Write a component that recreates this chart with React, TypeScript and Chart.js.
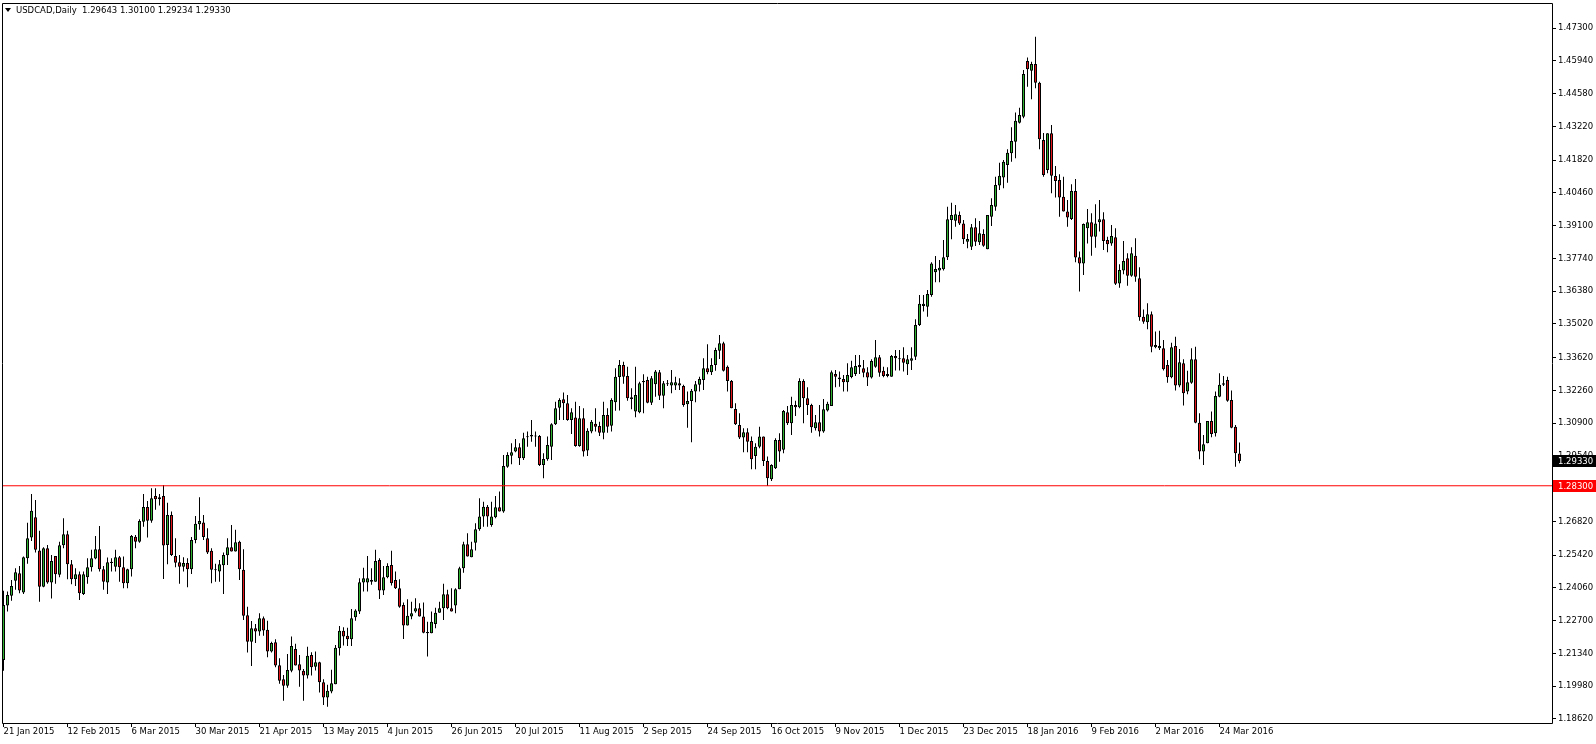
import React, { useEffect, useRef } from "react";
import { Chart, registerables } from "chart.js";

Chart.register(...registerables);

// ---------------- data ----------------
const symbolName = "USDCAD,Daily";

const opens = [
  1.2107,1.2333,1.2374,1.2436,1.2467,1.2387,1.2529,1.2615,1.2699,1.2561,
  1.2411,1.2571,1.2428,1.2538,1.2461,1.2583,1.2629,1.2504,1.2442,1.2463,
  1.2381,1.2450,1.2492,1.2528,1.2567,1.2484,1.2428,1.2509,1.2494,1.2533,
  1.2492,1.2425,1.2484,1.2618,1.2598,1.2681,1.2742,1.2685,1.2788,1.2774,
  1.2788,1.2584,1.2709,1.2539,1.2513,1.2494,1.2509,1.2484,1.2605,1.2670,
  1.2678,1.2612,1.2560,1.2479,1.2474,1.2500,1.2542,1.2575,1.2557,1.2598,
  1.2481,1.2293,1.2183,1.2239,1.2225,1.2280,1.2232,1.2142,1.2180,1.2085,
  1.2027,1.2000,1.2062,1.2152,1.2089,1.2062,1.2042,1.2128,1.2079,1.2098,
  1.2015,1.1951,1.1976,1.2006,1.2156,1.2228,1.2207,1.2193,1.2284,1.2308,
  1.2428,1.2428,1.2432,1.2432,1.2522,1.2395,1.2450,1.2501,1.2439,1.2405,
  1.2335,1.2250,1.2287,1.2308,1.2322,1.2287,1.2218,1.2218,1.2256,1.2303,
  1.2322,1.2380,1.2322,1.2333,1.2401,1.2488,1.2587,1.2533,1.2594,1.2650,
  1.2702,1.2743,1.2667,1.2699,1.2741,1.2723,1.2909,1.2955,1.2972,1.2990,
  1.2944,1.3031,1.3034,1.3037,1.3037,1.2916,1.2940,1.2992,1.3085,1.3154,
  1.3189,1.3172,1.3103,1.3113,1.2995,1.3110,1.2976,1.3055,1.3087,1.3078,
  1.3050,1.3124,1.3079,1.3177,1.3281,1.3331,1.3286,1.3190,1.3138,1.3135,
  1.3260,1.3269,1.3175,1.3251,1.3301,1.3204,1.3251,1.3246,1.3246,1.3256,
  1.3244,1.3168,1.3182,1.3221,1.3249,1.3269,1.3318,1.3301,1.3331,1.3390,
  1.3422,1.3324,1.3265,1.3149,1.3082,1.3030,1.3052,1.3016,1.2954,1.2992,
  1.3034,1.2933,1.2857,1.2903,1.3020,1.2979,1.3135,1.3089,1.3165,1.3156,
  1.3265,1.3193,1.3165,1.3069,1.3094,1.3055,1.3142,1.3161,1.3294,1.3279,
  1.3273,1.3260,1.3281,1.3294,1.3331,1.3318,1.3301,1.3279,1.3324,1.3363,
  1.3307,1.3294,1.3283,1.3369,1.3359,1.3359,1.3334,1.3349,1.3365,1.3497,
  1.3576,1.3573,1.3622,1.3716,1.3723,1.3729,1.3778,1.3933,1.3930,1.3954,
  1.3919,1.3843,1.3822,1.3903,1.3841,1.3875,1.3812,1.3947,1.3988,1.4076,
  1.4110,1.4161,1.4210,1.4258,1.4337,1.4362,1.4593,1.4553,1.4581,1.4503,
  1.4265,1.4141,1.4293,1.4116,1.4099,1.4030,1.3968,1.3937,1.4054,1.3778,
  1.3753,1.3899,1.3924,1.3864,1.3924,1.3936,1.3850,1.3836,1.3861,1.3670,
  1.3723,1.3774,1.3702,1.3785,1.3691,1.3532,1.3509,1.3542,1.3405,1.3401,
  1.3401,1.3331,1.3280,1.3410,1.3246,1.3339,1.3221,1.3258,1.3355,1.3092,
  1.2972,1.3006,1.3099,1.3048,1.3200,1.3249,1.3269,1.3186,1.3075,1.29643,
];

const highs = [
  1.2394,1.2391,1.2439,1.2488,1.2497,1.2536,1.2677,1.2796,1.2771,1.2643,
  1.2575,1.2584,1.2543,1.2539,1.2598,1.2695,1.2643,1.2522,1.2488,1.2474,
  1.2474,1.2529,1.2564,1.2622,1.2663,1.2497,1.2532,1.2529,1.2564,1.2539,
  1.2536,1.2486,1.2626,1.2626,1.2691,1.2796,1.2767,1.2820,1.2820,1.2796,
  1.2833,1.2760,1.2723,1.2612,1.2543,1.2533,1.2529,1.2617,1.2705,1.2782,
  1.2709,1.2654,1.2571,1.2506,1.2522,1.2553,1.2612,1.2667,1.2647,1.2602,
  1.2567,1.2328,1.2269,1.2256,1.2301,1.2287,1.2270,1.2183,1.2193,1.2114,
  1.2045,1.2132,1.2204,1.2174,1.2128,1.2069,1.2162,1.2139,1.2142,1.2100,
  1.2027,1.2004,1.2066,1.2169,1.2248,1.2243,1.2241,1.2319,1.2318,1.2446,
  1.2490,1.2539,1.2488,1.2564,1.2529,1.2497,1.2508,1.2560,1.2474,1.2442,
  1.2345,1.2359,1.2349,1.2363,1.2342,1.2345,1.2266,1.2308,1.2324,1.2349,
  1.2423,1.2398,1.2405,1.2405,1.2494,1.2598,1.2633,1.2598,1.2674,1.2778,
  1.2764,1.2750,1.2764,1.2788,1.2806,1.2958,1.2969,1.3006,1.3024,1.3006,
  1.3050,1.3055,1.3103,1.3055,1.3041,1.2965,1.3034,1.3089,1.3179,1.3193,
  1.3217,1.3207,1.3152,1.3179,1.3161,1.3152,1.3069,1.3103,1.3152,1.3096,
  1.3179,1.3152,1.3193,1.3318,1.3352,1.3345,1.3324,1.3235,1.3324,1.3262,
  1.3293,1.3283,1.3286,1.3311,1.3311,1.3265,1.3269,1.3311,1.3283,1.3276,
  1.3249,1.3221,1.3232,1.3265,1.3283,1.3359,1.3417,1.3359,1.3403,1.3456,
  1.3428,1.3329,1.3269,1.3172,1.3131,1.3069,1.3069,1.3034,1.3006,1.3075,
  1.3034,1.2951,1.2919,1.3027,1.3048,1.3145,1.3161,1.3200,1.3183,1.3276,
  1.3272,1.3239,1.3170,1.3124,1.3165,1.3190,1.3179,1.3308,1.3311,1.3304,
  1.3290,1.3339,1.3349,1.3373,1.3373,1.3352,1.3322,1.3355,1.3435,1.3373,
  1.3324,1.3322,1.3373,1.3394,1.3394,1.3405,1.3373,1.3405,1.3521,1.3622,
  1.3622,1.3643,1.3758,1.3784,1.3767,1.3850,1.3988,1.4005,1.3995,1.3968,
  1.3933,1.3875,1.3917,1.3940,1.3929,1.3895,1.3954,1.4023,1.4113,1.4171,
  1.4182,1.4227,1.4318,1.4379,1.4399,1.4556,1.4608,1.4590,1.4694,1.4507,
  1.4294,1.4293,1.4327,1.4157,1.4123,1.4113,1.4016,1.4081,1.4103,1.3802,
  1.3919,1.3979,1.3961,1.3998,1.4016,1.3965,1.3864,1.3912,1.3899,1.3749,
  1.3846,1.3795,1.3820,1.3857,1.3737,1.3562,1.3588,1.3553,1.3470,1.3473,
  1.3435,1.3352,1.3424,1.3449,1.3398,1.3355,1.3307,1.3401,1.3407,1.3131,
  1.3041,1.3099,1.3138,1.3221,1.3297,1.3286,1.3283,1.3225,1.3082,1.30100,
];

const lows = [
  1.2062,1.2308,1.2353,1.2398,1.2384,1.2381,1.2506,1.2601,1.2553,1.2349,
  1.2409,1.2423,1.2362,1.2423,1.2450,1.2571,1.2442,1.2421,1.2414,1.2356,
  1.2377,1.2423,1.2474,1.2525,1.2474,1.2398,1.2381,1.2474,1.2474,1.2432,
  1.2405,1.2405,1.2453,1.2571,1.2594,1.2660,1.2615,1.2677,1.2730,1.2748,
  1.2443,1.2504,1.2539,1.2492,1.2423,1.2474,1.2409,1.2464,1.2591,1.2647,
  1.2605,1.2547,1.2425,1.2432,1.2432,1.2381,1.2501,1.2557,1.2557,1.2439,
  1.2273,1.2138,1.2082,1.2177,1.2207,1.2207,1.2118,1.2138,1.2077,1.2008,
  1.1938,1.1992,1.2056,1.2084,1.1996,1.1938,1.2030,1.2042,1.2063,1.1972,
  1.1920,1.1913,1.1969,1.2006,1.2125,1.2167,1.2165,1.2165,1.2270,1.2298,
  1.2391,1.2391,1.2419,1.2432,1.2360,1.2377,1.2446,1.2416,1.2402,1.2324,
  1.2194,1.2250,1.2276,1.2303,1.2287,1.2218,1.2121,1.2218,1.2239,1.2303,
  1.2273,1.2318,1.2308,1.2301,1.2401,1.2469,1.2536,1.2533,1.2561,1.2643,
  1.2660,1.2660,1.2660,1.2695,1.2723,1.2718,1.2905,1.2919,1.2969,1.2916,
  1.2937,1.2992,1.3013,1.2992,1.2912,1.2861,1.2934,1.2937,1.3082,1.3103,
  1.3103,1.3100,1.3045,1.2992,1.2992,1.2951,1.2954,1.3048,1.3055,1.3037,
  1.3023,1.3050,1.3055,1.3141,1.3142,1.3253,1.3183,1.3148,1.3114,1.3131,
  1.3131,1.3173,1.3165,1.3200,1.3186,1.3152,1.3244,1.3214,1.3228,1.3228,
  1.3158,1.3071,1.3011,1.3177,1.3221,1.3228,1.3293,1.3290,1.3307,1.3356,
  1.3304,1.3221,1.3152,1.3082,1.3024,1.2969,1.2969,1.2899,1.2899,1.2986,
  1.2912,1.2829,1.2850,1.2900,1.2930,1.2965,1.3082,1.3041,1.3120,1.3152,
  1.3089,1.3124,1.3050,1.3059,1.3034,1.3050,1.3138,1.3161,1.3239,1.3241,
  1.3221,1.3221,1.3276,1.3286,1.3294,1.3280,1.3244,1.3275,1.3320,1.3283,
  1.3280,1.3280,1.3283,1.3308,1.3308,1.3304,1.3290,1.3311,1.3352,1.3493,
  1.3553,1.3532,1.3615,1.3675,1.3675,1.3723,1.3767,1.3853,1.3905,1.3912,
  1.3834,1.3816,1.3809,1.3825,1.3829,1.3822,1.3812,1.3908,1.3972,1.4058,
  1.4065,1.4088,1.4175,1.4189,1.4334,1.4355,1.4486,1.4434,1.4480,1.4227,
  1.4113,1.4127,1.4044,1.4026,1.3947,1.3968,1.3905,1.3933,1.3758,1.3636,
  1.3705,1.3836,1.3785,1.3818,1.3885,1.3809,1.3799,1.3826,1.3663,1.3652,
  1.3708,1.3660,1.3698,1.3677,1.3515,1.3502,1.3480,1.3384,1.3401,1.3394,
  1.3308,1.3258,1.3276,1.3225,1.3239,1.3163,1.3210,1.3253,1.3089,1.2940,
  1.2916,1.3006,1.3031,1.3034,1.3197,1.3244,1.3179,1.3069,1.2909,1.29234,
];

const closes = [
  1.2335,1.2377,1.2414,1.2471,1.2395,1.2533,1.2612,1.2726,1.2564,1.2411,
  1.2571,1.2428,1.2518,1.2463,1.2583,1.2629,1.2504,1.2442,1.2463,1.2384,
  1.2463,1.2492,1.2529,1.2567,1.2484,1.2432,1.2513,1.2515,1.2533,1.2492,
  1.2425,1.2484,1.2622,1.2598,1.2684,1.2742,1.2685,1.2778,1.2774,1.2782,
  1.2582,1.2709,1.2543,1.2511,1.2494,1.2509,1.2484,1.2605,1.2672,1.2684,
  1.2617,1.2553,1.2481,1.2482,1.2504,1.2543,1.2575,1.2557,1.2596,1.2484,
  1.2291,1.2183,1.2239,1.2225,1.2280,1.2229,1.2142,1.2177,1.2084,1.2021,
  1.2000,1.2065,1.2165,1.2084,1.2063,1.2042,1.2124,1.2077,1.2098,1.2015,
  1.1951,1.1979,1.2010,1.2158,1.2228,1.2204,1.2193,1.2280,1.2312,1.2430,
  1.2446,1.2446,1.2439,1.2518,1.2395,1.2450,1.2497,1.2425,1.2405,1.2328,
  1.2250,1.2290,1.2301,1.2322,1.2287,1.2220,1.2223,1.2266,1.2303,1.2322,
  1.2380,1.2322,1.2308,1.2401,1.2488,1.2587,1.2536,1.2567,1.2650,1.2702,
  1.2743,1.2702,1.2702,1.2741,1.2723,1.2912,1.2958,1.2969,1.2990,1.2944,
  1.3027,1.3035,1.3041,1.3034,1.2916,1.2941,1.2999,1.3085,1.3152,1.3186,
  1.3172,1.3103,1.3135,1.2995,1.3110,1.2972,1.3058,1.3096,1.3075,1.3050,
  1.3124,1.3075,1.3186,1.3283,1.3331,1.3283,1.3193,1.3197,1.3207,1.3256,
  1.3265,1.3175,1.3276,1.3304,1.3204,1.3256,1.3253,1.3260,1.3260,1.3246,
  1.3165,1.3182,1.3224,1.3251,1.3273,1.3318,1.3301,1.3331,1.3394,1.3422,
  1.3307,1.3265,1.3152,1.3085,1.3030,1.3052,1.3013,1.2940,1.2992,1.3034,
  1.2933,1.2861,1.2916,1.3020,1.2972,1.3140,1.3089,1.3165,1.3156,1.3265,
  1.3193,1.3165,1.3073,1.3094,1.3055,1.3148,1.3170,1.3301,1.3283,1.3272,
  1.3260,1.3290,1.3322,1.3327,1.3322,1.3299,1.3279,1.3348,1.3363,1.3299,
  1.3286,1.3286,1.3369,1.3359,1.3355,1.3341,1.3355,1.3359,1.3497,1.3585,
  1.3585,1.3626,1.3753,1.3730,1.3735,1.3778,1.3936,1.3954,1.3957,1.3919,
  1.3853,1.3854,1.3903,1.3843,1.3878,1.3826,1.3954,1.3995,1.4078,1.4117,
  1.4175,1.4212,1.4261,1.4345,1.4369,1.4539,1.4559,1.4581,1.4503,1.4268,
  1.4120,1.4293,1.4117,1.4095,1.4026,1.3968,1.3943,1.4054,1.3777,1.3753,
  1.3917,1.3924,1.3864,1.3919,1.3936,1.3846,1.3832,1.3867,1.3668,1.3726,
  1.3763,1.3702,1.3795,1.3698,1.3529,1.3511,1.3542,1.3407,1.3414,1.3410,
  1.3314,1.3280,1.3405,1.3246,1.3343,1.3214,1.3260,1.3355,1.3092,1.2972,
  1.3002,1.3099,1.3045,1.3203,1.3249,1.3256,1.3183,1.3071,1.2965,1.29330,
];

const dateLabels = [
  "21 Jan 2015", "12 Feb 2015", "6 Mar 2015", "30 Mar 2015", "21 Apr 2015",
  "13 May 2015", "4 Jun 2015", "26 Jun 2015", "20 Jul 2015", "11 Aug 2015",
  "2 Sep 2015", "24 Sep 2015", "16 Oct 2015", "9 Nov 2015", "1 Dec 2015",
  "23 Dec 2015", "18 Jan 2016", "9 Feb 2016", "2 Mar 2016", "24 Mar 2016",
];
const dateLabelStep = 16; // bars between date labels

const priceTicks = [
  1.473, 1.4594, 1.4458, 1.4322, 1.4182, 1.4046, 1.391, 1.3774, 1.3638, 1.3502, 1.3362,
  1.3226, 1.309, 1.2954, 1.2818, 1.2682, 1.2542, 1.2406, 1.227, 1.2134, 1.1998, 1.1862,
];

const levelLine = 1.283;
const priceMin = 1.184535;
const priceMax = 1.48338;

// ---------------- style ----------------
const FONT_FAMILY = '"DejaVu Sans", Verdana, sans-serif';
const FONT_SIZE = 8.5;
const BULL = "#2fb22f";
const BEAR = "#e3161b";
const BAR_STEP_PX = 4;
const CHART_W = 1596;
const CHART_H = 744;
const AREA_LEFT = 2;
const AREA_TOP = 3;
const Y_AXIS_W = 44;
const X_AXIS_H = 21;

export default function App() {
  const canvasRef = useRef<HTMLCanvasElement | null>(null);

  useEffect(() => {
    const canvas = canvasRef.current;
    if (!canvas) return;
    const n = closes.length;
    const idx = closes.map((_, i) => i);
    const wickData = idx.map((i) => ({ x: i, y: [lows[i], highs[i]] }));
    const bodyData = idx.map((i) => ({ x: i, y: [opens[i], closes[i]] }));
    const bodyColors = idx.map((i) => (closes[i] >= opens[i] ? BULL : BEAR));

    const areaWidth = CHART_W - AREA_LEFT - Y_AXIS_W;
    const xMin = -1.5 / BAR_STEP_PX;
    const xMax = xMin + areaWidth / BAR_STEP_PX;

    const font = { family: FONT_FAMILY, size: FONT_SIZE, lineHeight: 1.2 };

    const overlay = {
      id: "mt4Overlay",
      afterDraw(chart: any) {
        const { ctx, chartArea } = chart;
        const yScale = chart.scales.y;
        ctx.save();
        // frame
        ctx.strokeStyle = "#000";
        ctx.lineWidth = 1;
        ctx.beginPath();
        ctx.moveTo(chartArea.left + 0.5, chartArea.top + 0.5);
        ctx.lineTo(chartArea.right + 0.5, chartArea.top + 0.5);
        ctx.lineTo(chartArea.right + 0.5, chartArea.bottom + 0.5);
        ctx.lineTo(chartArea.left + 0.5, chartArea.bottom + 0.5);
        ctx.closePath();
        ctx.stroke();

        ctx.font = `${FONT_SIZE}px ${FONT_FAMILY}`;
        ctx.textBaseline = "middle";
        ctx.textAlign = "left";

        const drawBox = (price: number, bg: string) => {
          const y = Math.round(yScale.getPixelForValue(price));
          ctx.fillStyle = bg;
          ctx.fillRect(chartArea.right + 1, y - 6, CHART_W - chartArea.right - 1, 12);
          ctx.fillStyle = "#fff";
          ctx.fillText(price.toFixed(5), chartArea.right + 6, y + 0.5);
        };
        drawBox(closes[n - 1], "#000");
        drawBox(levelLine, "#ff0000");

        // title
        ctx.fillStyle = "#000";
        ctx.beginPath();
        ctx.moveTo(5, 8);
        ctx.lineTo(11, 8);
        ctx.lineTo(8, 12);
        ctx.closePath();
        ctx.fill();
        const title =
          `${symbolName}  ${opens[n - 1].toFixed(5)} ${highs[n - 1].toFixed(5)} ` +
          `${lows[n - 1].toFixed(5)} ${closes[n - 1].toFixed(5)}`;
        ctx.fillText(title, 16, 10.5);
        ctx.restore();
      },
    };

    const chart = new Chart(canvas, {
      type: "bar",
      data: {
        datasets: [
          {
            type: "line",
            data: [
              { x: xMin, y: levelLine },
              { x: xMax, y: levelLine },
            ],
            borderColor: "#ff0000",
            borderWidth: 1,
            pointRadius: 0,
            order: 0,
          } as any,
          {
            type: "bar",
            data: bodyData as any,
            backgroundColor: bodyColors,
            borderColor: "#000",
            borderWidth: 1,
            borderSkipped: false,
            barThickness: 3,
            grouped: false,
            minBarLength: 1,
            inflateAmount: 0,
            order: 1,
          } as any,
          {
            type: "bar",
            data: wickData as any,
            backgroundColor: "#000",
            borderWidth: 0,
            barThickness: 1,
            grouped: false,
            inflateAmount: 0,
            order: 2,
          } as any,
        ],
      },
      options: {
        responsive: false,
        maintainAspectRatio: false,
        animation: false,
        devicePixelRatio: 1,
        events: [],
        layout: { padding: { left: AREA_LEFT, top: AREA_TOP, right: 0, bottom: 0 } },
        plugins: {
          legend: { display: false },
          tooltip: { enabled: false },
          title: { display: false },
        },
        scales: {
          x: {
            type: "linear",
            position: "bottom",
            min: xMin,
            max: xMax,
            offset: false,
            afterBuildTicks: (scale: any) => {
              scale.ticks = dateLabels.map((_, i) => ({ value: i * dateLabelStep }));
            },
            afterFit: (scale: any) => {
              scale.height = X_AXIS_H;
              scale.paddingLeft = 0;
              scale.paddingRight = 0;
            },
            ticks: {
              autoSkip: false,
              maxRotation: 0,
              minRotation: 0,
              align: "start",
              padding: 0,
              color: "#000",
              font,
              callback: (_v: any, i: number) => dateLabels[i] ?? "",
            },
            grid: {
              display: true,
              offset: false,
              drawOnChartArea: false,
              drawTicks: true,
              tickLength: 4,
              color: "#000",
              lineWidth: 1,
            },
            border: { display: false },
          } as any,
          y: {
            type: "linear",
            position: "right",
            min: priceMin,
            max: priceMax,
            afterBuildTicks: (scale: any) => {
              scale.ticks = priceTicks.map((v) => ({ value: v }));
            },
            afterFit: (scale: any) => {
              scale.width = Y_AXIS_W;
              scale.paddingTop = 0;
              scale.paddingBottom = 0;
            },
            ticks: {
              autoSkip: false,
              padding: 2,
              color: "#000",
              font,
              callback: (v: any) => Number(v).toFixed(5),
            },
            grid: {
              display: true,
              drawOnChartArea: false,
              drawTicks: true,
              tickLength: 4,
              color: "#000",
              lineWidth: 1,
            },
            border: { display: false },
          } as any,
        },
      },
      plugins: [overlay],
    });

    return () => {
      chart.destroy();
    };
  }, []);

  return (
    <div
      style={{
        position: "fixed",
        left: 0,
        top: 0,
        width: CHART_W,
        height: CHART_H,
        background: "#fff",
      }}
    >
      <canvas
        ref={canvasRef}
        width={CHART_W}
        height={CHART_H}
        style={{ display: "block", width: CHART_W, height: CHART_H }}
      />
    </div>
  );
}
